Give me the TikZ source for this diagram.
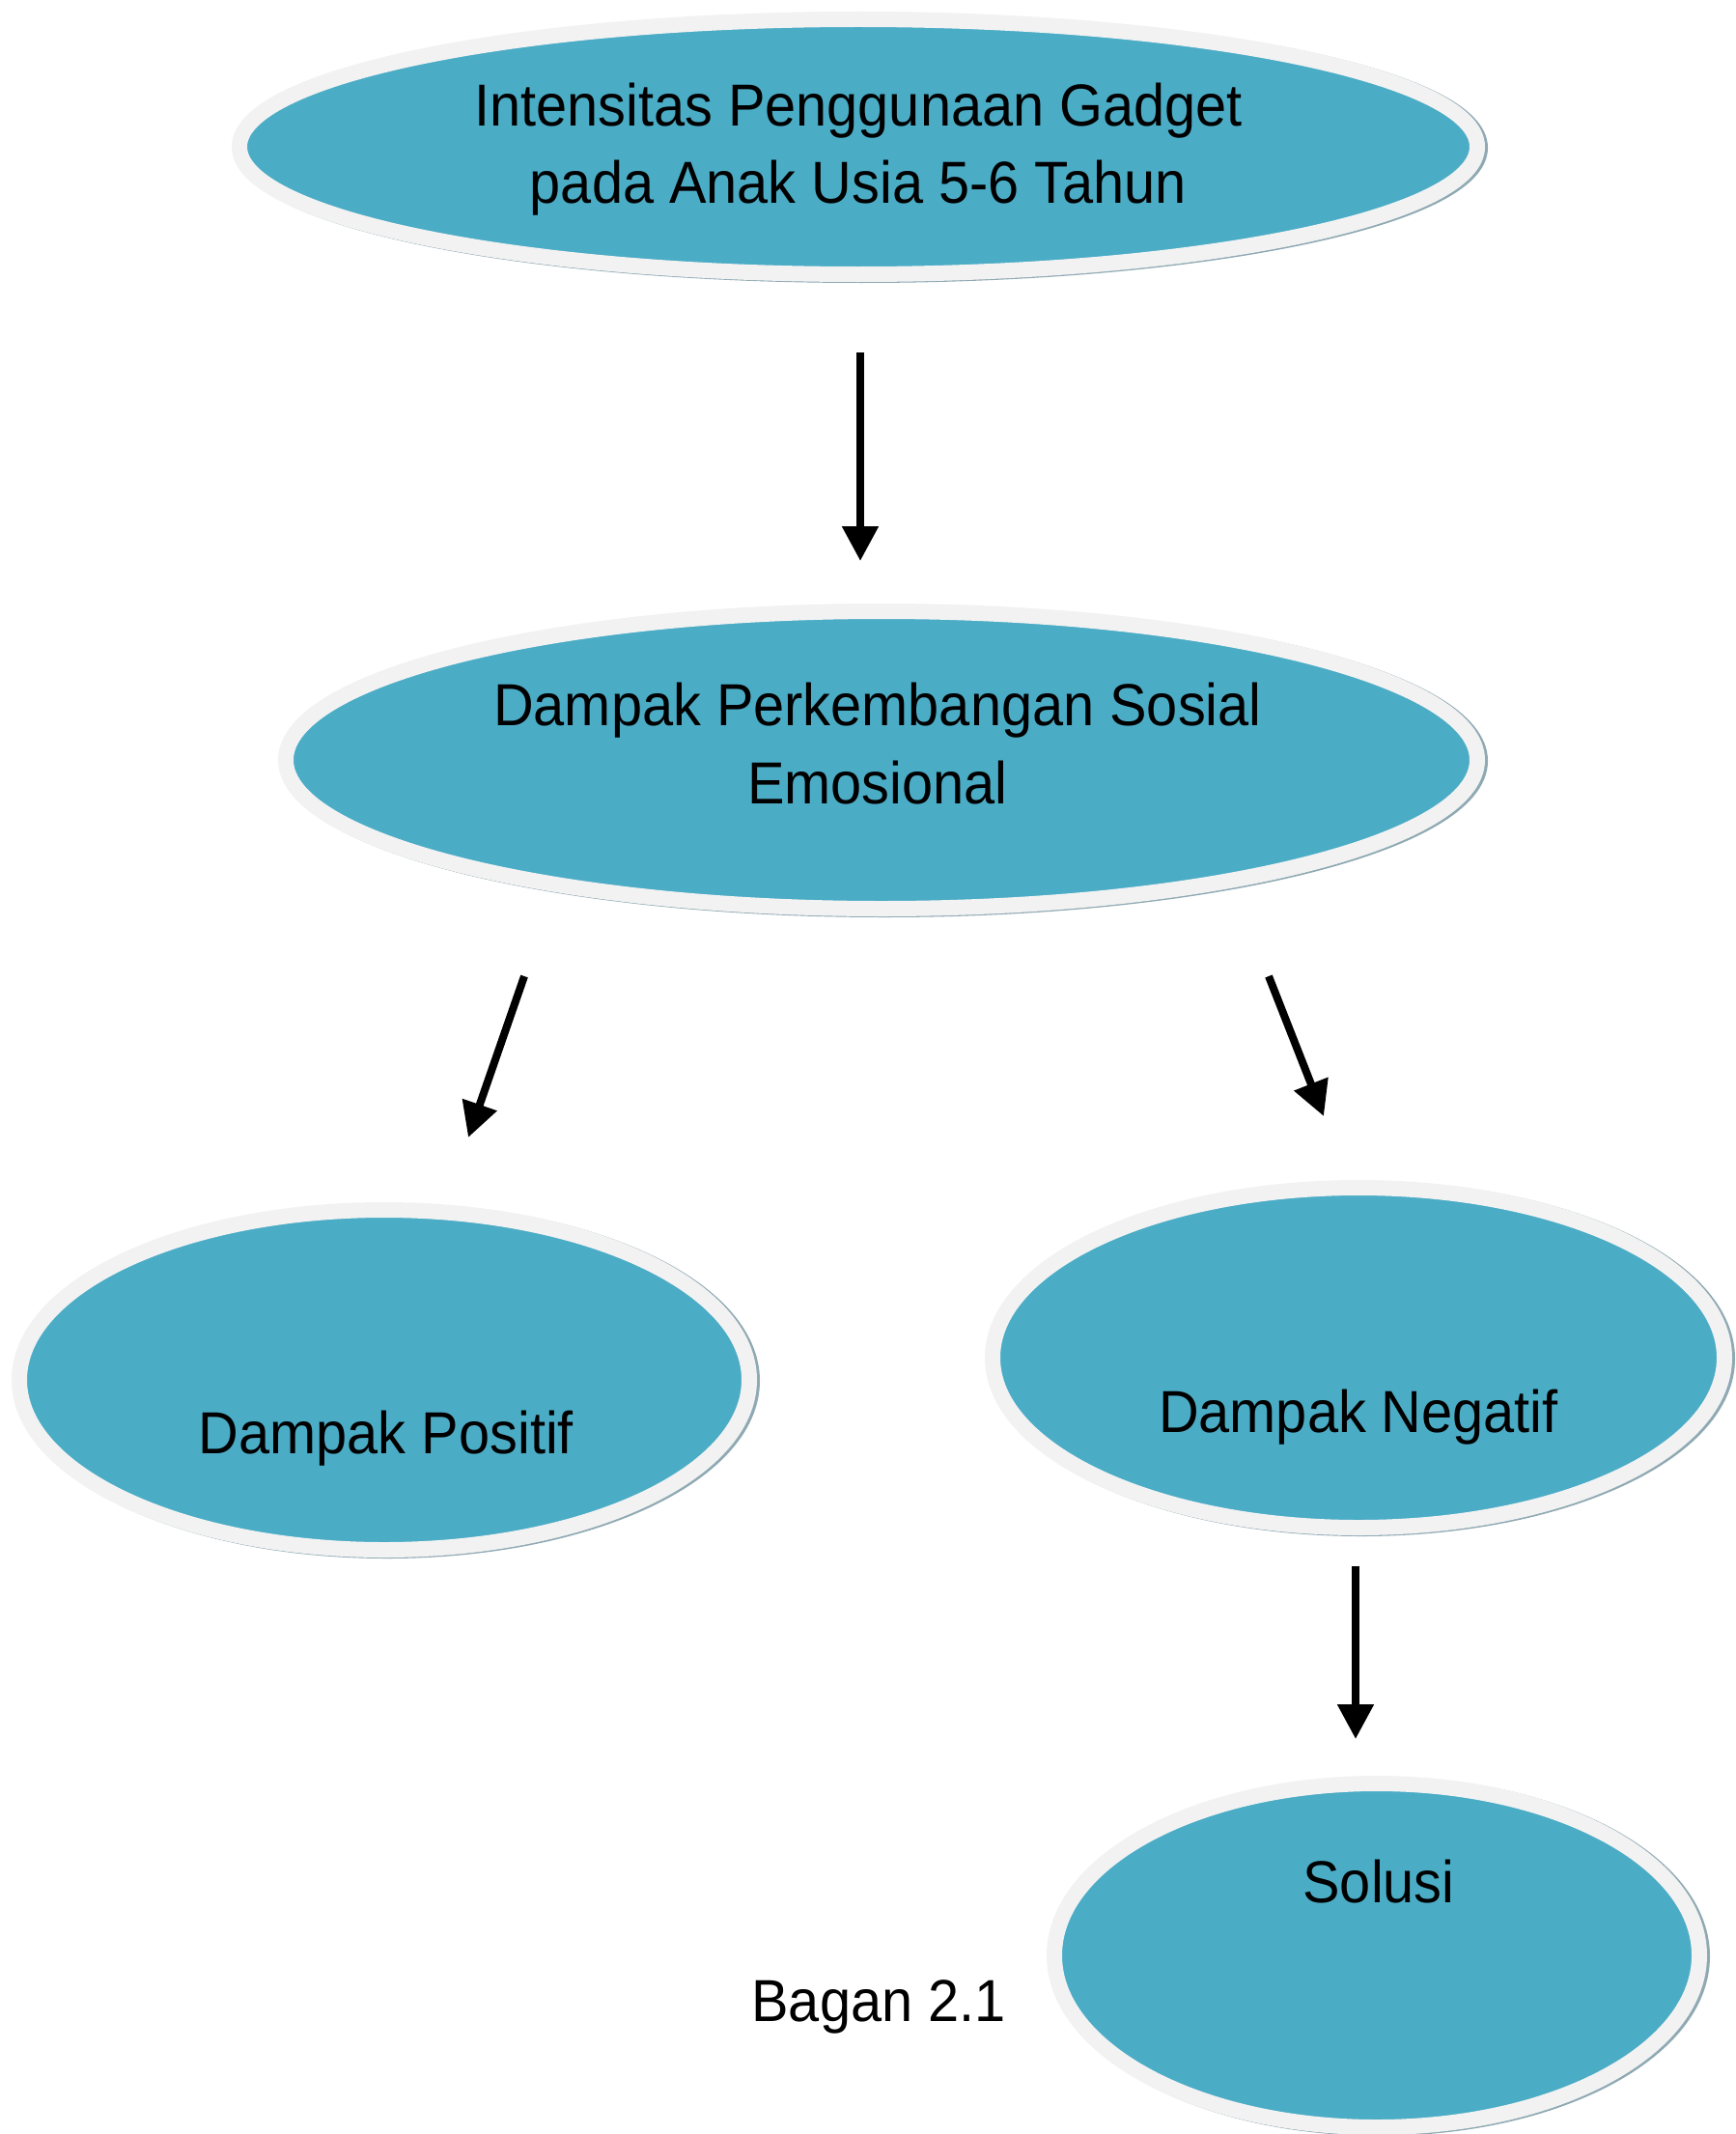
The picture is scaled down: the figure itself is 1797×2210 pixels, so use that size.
\documentclass[tikz,border=0pt]{standalone}
\usepackage{fontspec}
\setmainfont{Liberation Sans}[FakeStretch=0.94]
\usetikzlibrary{shapes.geometric,arrows.meta}
\definecolor{bubble}{HTML}{4BACC6}
\definecolor{ring}{HTML}{F2F2F2}
\definecolor{edgeshade}{HTML}{8FA9B3}
\tikzset{
  bubble/.style={ellipse, inner sep=0pt, fill=bubble, draw=ring, line width=16pt,
    preaction={draw=edgeshade, line width=16pt, transform canvas={xshift=3pt,yshift=-1pt}}},
  lbl/.style={anchor=base, inner sep=0pt, font=\fontsize{61.4}{81}\selectfont},
  conn/.style={line width=8pt, -{Triangle[width=36pt,length=36pt]}}
}
\begin{document}
\begin{tikzpicture}[x=1pt,y=-1pt]
\useasboundingbox (0,0) rectangle (1797,2210);
\fill[white] (0,0) rectangle (1797,2210);
% ellipses
\node[bubble, minimum width=1282pt, minimum height=264pt] (e1) at (889,152) {};
\node[bubble, minimum width=1234pt, minimum height=308pt] (e2) at (913,787) {};
\node[bubble, minimum width=756pt, minimum height=352pt] (e3) at (398,1429) {};
\node[bubble, minimum width=758pt, minimum height=352pt] (e4) at (1407,1406) {};
\node[bubble, minimum width=668pt, minimum height=356pt] (e5) at (1426,2025) {};
% labels
\node[lbl] (t1a) at (889,131) {Intensitas Penggunaan Gadget};
\node[lbl] (t1b) at (889,211) {pada Anak Usia 5-6 Tahun};
\node[lbl] (t2a) at (909,751) {Dampak Perkembangan Sosial};
\node[lbl] (t2b) at (909,832) {Emosional};
\node[lbl] (t3) at (400,1505) {Dampak Positif};
\node[lbl] (t4) at (1407,1483) {Dampak Negatif};
\node[lbl] (t5) at (1428,1970) {Solusi};
\node[lbl] (cap) at (910,2093) {Bagan 2.1};
% connectors
\coordinate (a1s) at (891,365);  \coordinate (a1e) at (891,581);
\coordinate (a2s) at (543,1011); \coordinate (a2e) at (485,1178);
\coordinate (a3s) at (1314,1011);\coordinate (a3e) at (1371,1156);
\coordinate (a4s) at (1404,1622);\coordinate (a4e) at (1404,1801);
\draw[conn] (a1s) -- (a1e);
\draw[conn] (a2s) -- (a2e);
\draw[conn] (a3s) -- (a3e);
\draw[conn] (a4s) -- (a4e);
\end{tikzpicture}
\end{document}
